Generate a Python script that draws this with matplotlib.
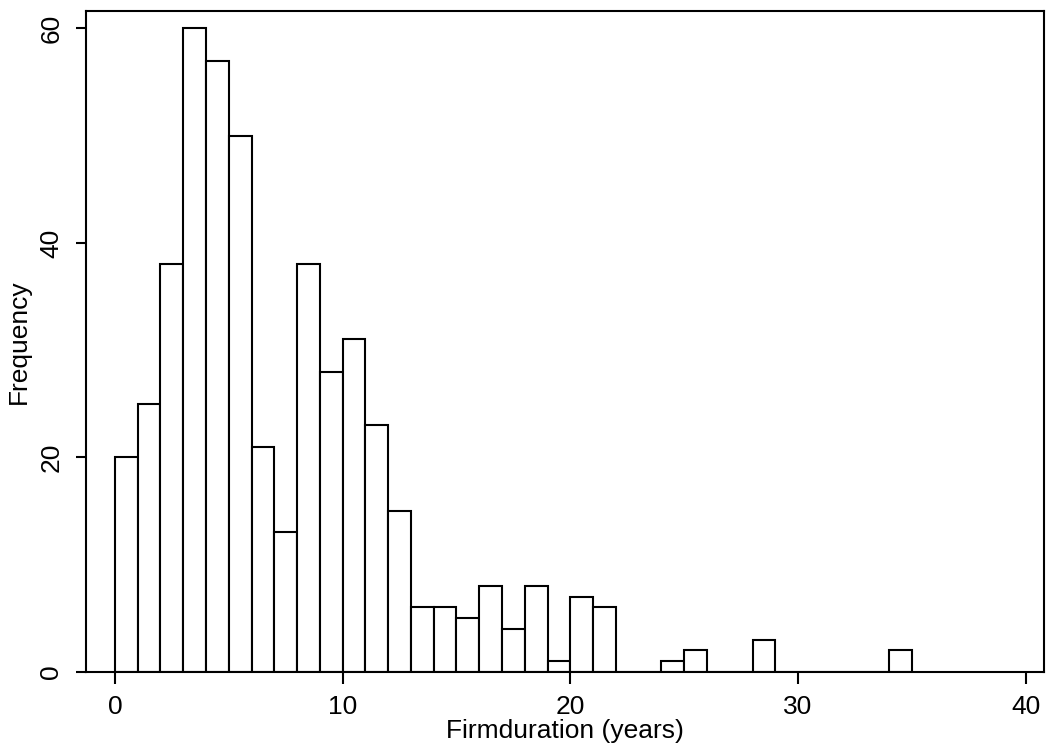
import matplotlib
matplotlib.use("Agg")
import matplotlib.pyplot as plt
import numpy as np

plt.rcParams['font.family'] = ['Liberation Sans', 'DejaVu Sans']

bin_left = list(range(0, 35))
counts = [20, 25, 38, 60, 57, 50, 21, 13, 38, 28, 31, 23, 15, 6, 6, 5, 8, 4, 8, 1,
          7, 6, 0, 0, 1, 2, 0, 0, 3, 0, 0, 0, 0, 0, 2]
bin_width = 1.0
x_ticks = [0, 10, 20, 30, 40]
y_ticks = [0, 20, 40, 60]

W, H = 1047, 752
left_px, right_px, top_px, bot_px = 86, 1044, 10.7, 671.7
fig = plt.figure(figsize=(W / 100, H / 100), dpi=100)
ax = fig.add_axes([left_px / W, (H - bot_px) / H, (right_px - left_px) / W, (bot_px - top_px) / H])

ax.bar(bin_left, counts, width=bin_width, align='edge', facecolor='white',
       edgecolor='black', linewidth=1.5)

ax.set_xlim(-1.27, 40.8)
ax.set_ylim(0, 61.66)
ax.set_xticks(x_ticks)
ax.set_yticks(y_ticks)
fs = 19
ax.tick_params(axis='x', length=8.6, width=1.5, pad=8, labelsize=fs)
ax.tick_params(axis='y', length=7.2, width=1.5, pad=9, labelsize=fs)
for lab in ax.get_yticklabels():
    lab.set_rotation(90)
    lab.set_va('center')
for s in ax.spines.values():
    s.set_linewidth(1.5)

ax.set_xlabel('Firmduration (years)', fontsize=fs, labelpad=0)
ax.set_ylabel('Frequency', fontsize=fs, labelpad=6)

fig.savefig('out.png', dpi=100)
